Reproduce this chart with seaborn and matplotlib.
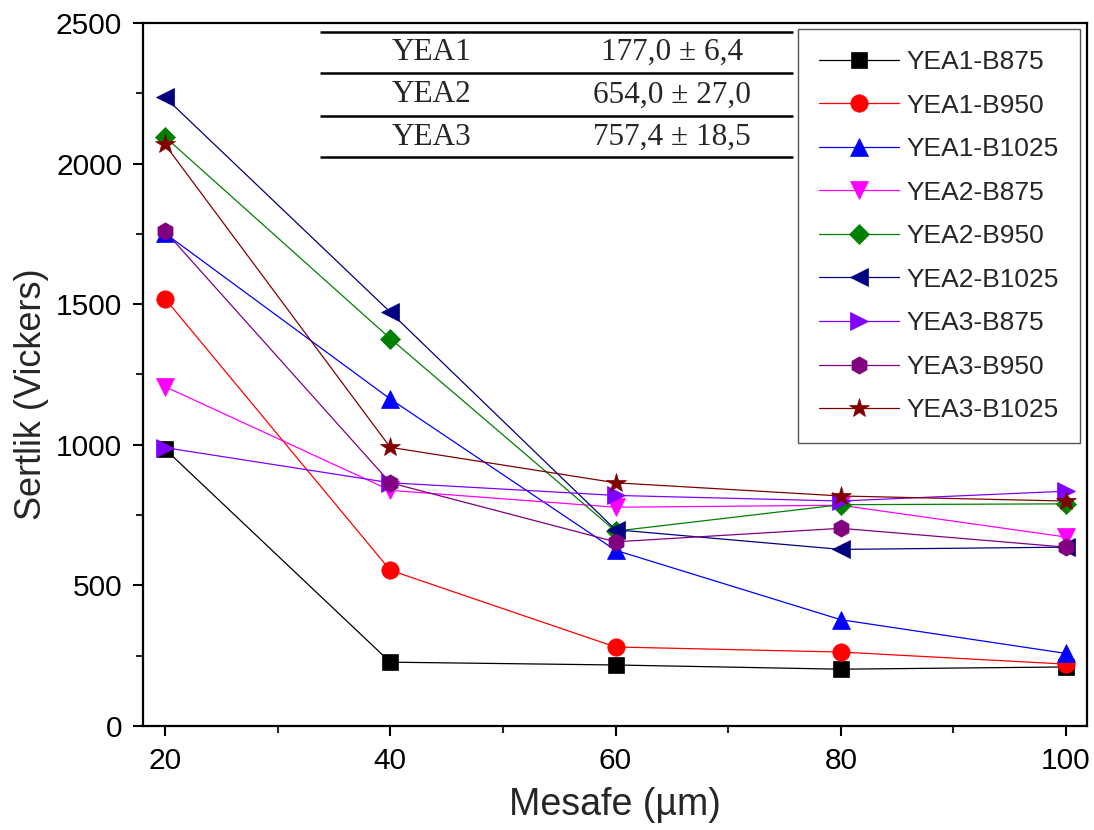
import matplotlib
matplotlib.use("Agg")
import matplotlib.pyplot as plt
from matplotlib.ticker import MultipleLocator
import seaborn as sns

# Measurement distances (µm)
mesafe = [20, 40, 60, 80, 100]

# Hardness series (Vickers)
yea1_b875 = [985, 227, 217, 202, 210]
yea1_b950 = [1520, 554, 281, 263, 220]
yea1_b1025 = [1752, 1163, 625, 378, 258]
yea2_b875 = [1207, 838, 778, 785, 672]
yea2_b950 = [2095, 1378, 693, 787, 790]
yea2_b1025 = [2236, 1472, 698, 628, 636]
yea3_b875 = [990, 865, 820, 800, 835]
yea3_b950 = [1760, 865, 655, 703, 636]
yea3_b1025 = [2068, 991, 865, 818, 800]

series_names = ["YEA1-B875", "YEA1-B950", "YEA1-B1025",
                "YEA2-B875", "YEA2-B950", "YEA2-B1025",
                "YEA3-B875", "YEA3-B950", "YEA3-B1025"]
series_values = [yea1_b875, yea1_b950, yea1_b1025,
                 yea2_b875, yea2_b950, yea2_b1025,
                 yea3_b875, yea3_b950, yea3_b1025]

# Inset table of base hardness values
table_rows = ["YEA1", "YEA2", "YEA3"]
table_values = ["177,0 ± 6,4", "654,0 ± 27,0", "757,4 ± 18,5"]

colors = ["#000000", "#FF0000", "#0000FF", "#FF00FF", "#008000",
          "#000080", "#8000FF", "#800080", "#800000"]
markers = ["s", "o", "^", "v", "D", "<", ">", "h", "*"]
msizes = [11, 12.5, 13.5, 13.5, 10, 13.5, 13.5, 12.5, 15]

sns.set_style("ticks")
plt.rcParams["font.family"] = ["Liberation Sans", "DejaVu Sans"]

fig = plt.figure(figsize=(10.94, 8.30), dpi=100)
ax = fig.add_axes([143 / 1094, 1 - 726 / 830, 944 / 1094, 703 / 830])

for name, vals, c, m, ms in zip(series_names, series_values, colors, markers, msizes):
    sns.lineplot(x=mesafe, y=vals, ax=ax, color=c, marker=m, markersize=ms,
                 markeredgecolor=c, markerfacecolor=c, markeredgewidth=0.5,
                 linewidth=0.9, label=name, clip_on=False)

ax.set_xlim(18.05, 101.86)
ax.set_ylim(0, 2500)
ax.xaxis.set_major_locator(MultipleLocator(20))
ax.xaxis.set_minor_locator(MultipleLocator(10))
ax.yaxis.set_major_locator(MultipleLocator(500))
ax.yaxis.set_minor_locator(MultipleLocator(250))

for s in ax.spines.values():
    s.set_linewidth(1.6)
    s.set_color("black")
ax.tick_params(which="major", direction="out", length=7, width=1.5,
               labelsize=21.5, pad=8, colors="black")
ax.tick_params(which="minor", direction="out", length=5, width=1.5)
ax.tick_params(top=False, right=False, which="both")

ax.set_xlabel("Mesafe (\u00b5m)", fontsize=27, labelpad=9)
ax.set_ylabel("Sertlik (Vickers)", fontsize=26)
ax.yaxis.set_label_coords(-0.100, 0.4723)

# Inset table with horizontal rules
x0, x1 = 0.1875, 0.6886
for yy in [0.9872, 0.9289, 0.8677, 0.8094]:
    ax.plot([x0, x1], [yy, yy], transform=ax.transAxes, color="black",
            linewidth=1.8, solid_capstyle="butt")
for yy, r, v in zip([0.9587, 0.8976, 0.8378], table_rows, table_values):
    ax.text(0.3051, yy, r, transform=ax.transAxes, ha="center", va="center",
            fontsize=22.5, family=["Liberation Serif", "DejaVu Serif"])
    ax.text(0.5604, yy, v, transform=ax.transAxes, ha="center", va="center",
            fontsize=22.5, family=["Liberation Serif", "DejaVu Serif"])

leg = ax.legend(loc="upper right", bbox_to_anchor=(0.9926, 0.9915),
                borderaxespad=0, fontsize=19, frameon=True, fancybox=False,
                edgecolor="#555555", framealpha=1, handlelength=3.0,
                handletextpad=0.3, labelspacing=0.74, borderpad=0.8)
leg.get_frame().set_linewidth(1.0)

fig.savefig("out.png", dpi=100)
